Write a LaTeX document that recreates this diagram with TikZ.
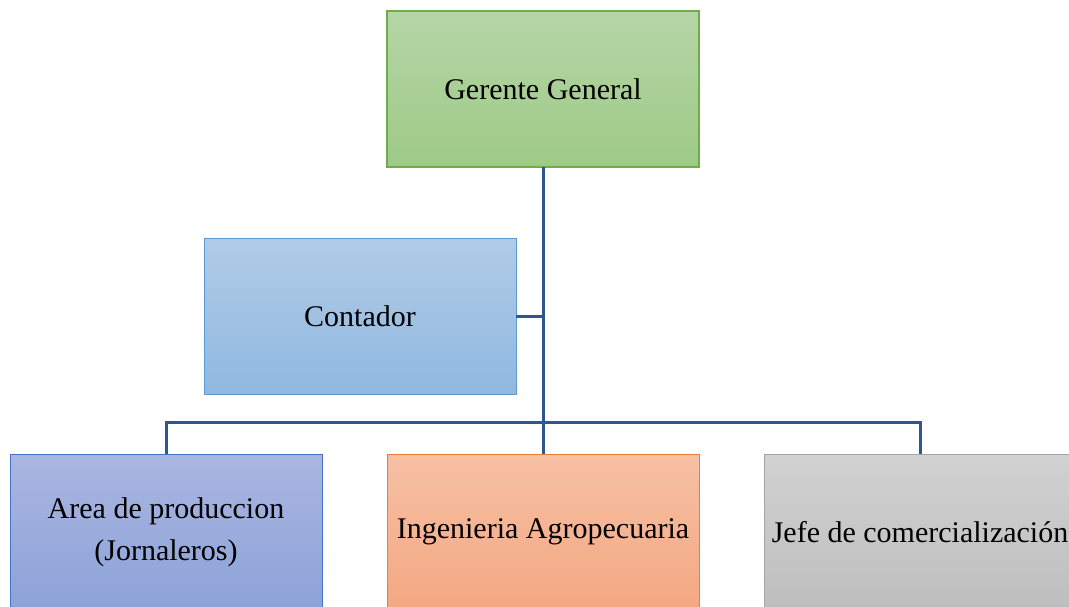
\documentclass[tikz,border=0pt]{standalone}
\usepackage{fontspec}
\setmainfont{Liberation Serif}
\definecolor{conn}{HTML}{2F5597}
\tikzset{
  box/.style={draw, rectangle, minimum width=156pt, minimum height=78pt, inner sep=0pt, outer sep=0pt, align=center, font=\fontsize{15}{21}\selectfont, text=black},
  greenbox/.style={box, draw={rgb,255:red,112;green,173;blue,71}, line width=1pt, top color={rgb,255:red,181;green,213;blue,167}, bottom color={rgb,255:red,158;green,202;blue,134}},
  bluebox/.style={box, draw={rgb,255:red,91;green,155;blue,213}, line width=0.5pt, top color={rgb,255:red,177;green,203;blue,232}, bottom color={rgb,255:red,144;green,184;blue,224}},
  indigobox/.style={box, draw={rgb,255:red,68;green,114;blue,196}, line width=0.5pt, top color={rgb,255:red,170;green,182;blue,225}, bottom color={rgb,255:red,140;green,162;blue,216}},
  orangebox/.style={box, draw={rgb,255:red,237;green,125;blue,49}, line width=0.5pt, top color={rgb,255:red,247;green,192;blue,164}, bottom color={rgb,255:red,244;green,168;blue,130}},
  greybox/.style={box, draw={rgb,255:red,165;green,165;blue,165}, line width=0.5pt, top color={rgb,255:red,209;green,209;blue,209}, bottom color={rgb,255:red,190;green,190;blue,190}},
  link/.style={draw=conn, line width=1.5pt}
}
\begin{document}
\begin{tikzpicture}[x=0.5pt,y=-0.5pt]
\useasboundingbox (0,0) rectangle (1069,606);
\clip (0,0) rectangle (1069,606);
\node[greenbox] (gerente) at (543,89) {Gerente General};
\node[bluebox] (contador) at (360,316) {Contador};
\node[indigobox] (area) at (166,532) {Area de produccion\\(Jornaleros)};
\node[orangebox] (ing) at (543,532) {Ingenieria Agropecuaria};
\node[greybox] (jefe) at (920,532) {Jefe de comercialización};
\coordinate (junc) at (543,422);
\draw[link] (gerente.south) -- (junc);
\draw[link] (contador.east) -- (contador.east -| gerente.south);
\draw[link] (area.north) |- (junc) -| (jefe.north);
\draw[link] (junc) -- (ing.north);
\end{tikzpicture}
\end{document}
